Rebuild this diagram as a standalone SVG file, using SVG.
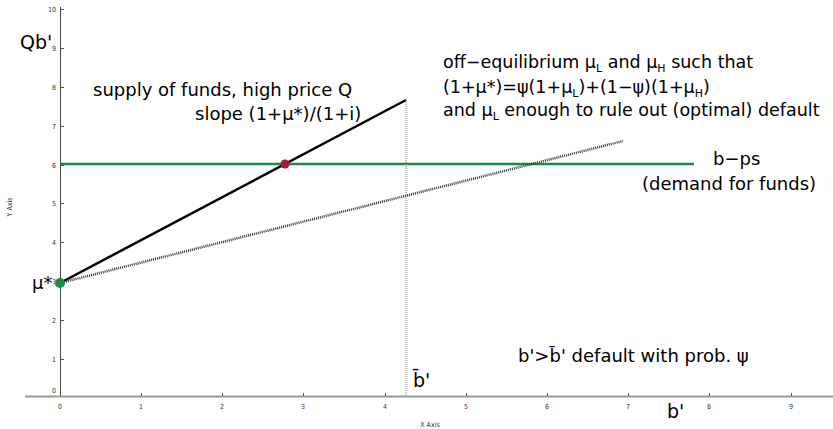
<svg xmlns="http://www.w3.org/2000/svg" width="833" height="429" viewBox="0 0 833 429">
<style>
.tk{font-family:"DejaVu Sans Condensed","DejaVu Sans",sans-serif;font-size:7px;fill:#333}
.ax{font-family:"DejaVu Sans Condensed","DejaVu Sans",sans-serif;font-size:7px;fill:#333}
.lb{font-family:"DejaVu Sans",sans-serif;font-size:18px;fill:#000}
.rb{font-family:"DejaVu Sans",sans-serif;font-size:17.5px;fill:#000}
.big{font-family:"DejaVu Sans",sans-serif;font-size:19px;fill:#000}
.sub{font-size:11px}
</style>
<rect width="833" height="429" fill="#fff"/>
<g id="axes">
<line x1="60.5" y1="7" x2="60.5" y2="397" stroke="#444" stroke-width="1"/>
<line x1="25" y1="396.5" x2="833" y2="396.5" stroke="#999" stroke-width="2"/>
<g stroke="#555" stroke-width="1">
<line x1="60" y1="9.5" x2="64" y2="9.5"/><line x1="60" y1="48.5" x2="64" y2="48.5"/><line x1="60" y1="87.5" x2="64" y2="87.5"/><line x1="60" y1="126.5" x2="64" y2="126.5"/><line x1="60" y1="165.5" x2="64" y2="165.5"/><line x1="60" y1="203.5" x2="64" y2="203.5"/><line x1="60" y1="242.5" x2="64" y2="242.5"/><line x1="60" y1="281.5" x2="64" y2="281.5"/><line x1="60" y1="320.5" x2="64" y2="320.5"/><line x1="60" y1="359.5" x2="64" y2="359.5"/>
<line x1="141.5" y1="393" x2="141.5" y2="396"/><line x1="222.5" y1="393" x2="222.5" y2="396"/><line x1="303.5" y1="393" x2="303.5" y2="396"/><line x1="385.5" y1="393" x2="385.5" y2="396"/><line x1="466.5" y1="393" x2="466.5" y2="396"/><line x1="547.5" y1="393" x2="547.5" y2="396"/><line x1="628.5" y1="393" x2="628.5" y2="396"/><line x1="709.5" y1="393" x2="709.5" y2="396"/><line x1="791.5" y1="393" x2="791.5" y2="396"/>
</g>
<g class="tk" text-anchor="end">
<text x="56" y="12">10</text><text x="56" y="51">9</text><text x="56" y="90">8</text><text x="56" y="129">7</text><text x="56" y="168">6</text><text x="56" y="206">5</text><text x="56" y="245">4</text><text x="56" y="284">3</text><text x="56" y="323">2</text><text x="56" y="362">1</text><text x="56" y="393">0</text>
</g>
<g class="tk" text-anchor="middle">
<text x="60" y="409">0</text><text x="141" y="409">1</text><text x="222" y="409">2</text><text x="303" y="409">3</text><text x="385" y="409">4</text><text x="466" y="409">5</text><text x="547" y="409">6</text><text x="628" y="409">7</text><text x="709" y="409">8</text><text x="791" y="409">9</text>
</g>
<text class="ax" x="430" y="427" text-anchor="middle">X Axis</text>
<text class="ax" transform="translate(12,207) rotate(-90)" text-anchor="middle">Y Axis</text>
</g>
<g id="connectors">
<line id="supply" x1="60" y1="283" x2="406" y2="100" stroke="#000" stroke-width="2.5"/>
<line id="demand" x1="60" y1="164" x2="694" y2="164" stroke="#1a8a4a" stroke-width="2.5"/>
<line id="offeq" x1="60" y1="283" x2="623" y2="141" stroke="#333" stroke-width="2.5" stroke-dasharray="1,1"/>
<line id="bbar" x1="406" y1="100" x2="406" y2="396" stroke="#777" stroke-width="1" stroke-dasharray="1,1"/>
</g>
<g id="eq-point"><circle cx="285" cy="164" r="4.5" fill="#b0103a"/></g>
<g id="mu-point"><circle cx="60" cy="283" r="5" fill="#1a8a4a"/></g>
<g id="labels">
<text class="big" x="20" y="49">Qb'</text>
<text class="lb" x="32" y="289">μ*</text>
<text class="lb" x="93" y="96">supply of funds, high price Q</text>
<text class="lb" x="195" y="120">slope (1+μ*)/(1+i)</text>
<text class="rb" x="443" y="68">off−equilibrium μ<tspan class="sub" dy="4">L</tspan><tspan dy="-4"> and μ</tspan><tspan class="sub" dy="4">H</tspan><tspan dy="-4"> such that</tspan></text>
<text class="rb" x="443" y="93">(1+μ*)=ψ(1+μ<tspan class="sub" dy="4">L</tspan><tspan dy="-4">)+(1−ψ)(1+μ</tspan><tspan class="sub" dy="4">H</tspan><tspan dy="-4">)</tspan></text>
<text class="rb" x="443" y="116">and μ<tspan class="sub" dy="4">L</tspan><tspan dy="-4"> enough to rule out (optimal) default</tspan></text>
<text class="lb" x="713" y="165">b−ps</text>
<text class="lb" x="642" y="190">(demand for funds)</text>
<text class="lb" x="518" y="362">b'&gt;b̄' default with prob. ψ</text>
<text class="big" x="413" y="387">b̄'</text>
<text class="big" x="667" y="418">b'</text>
</g>
</svg>
